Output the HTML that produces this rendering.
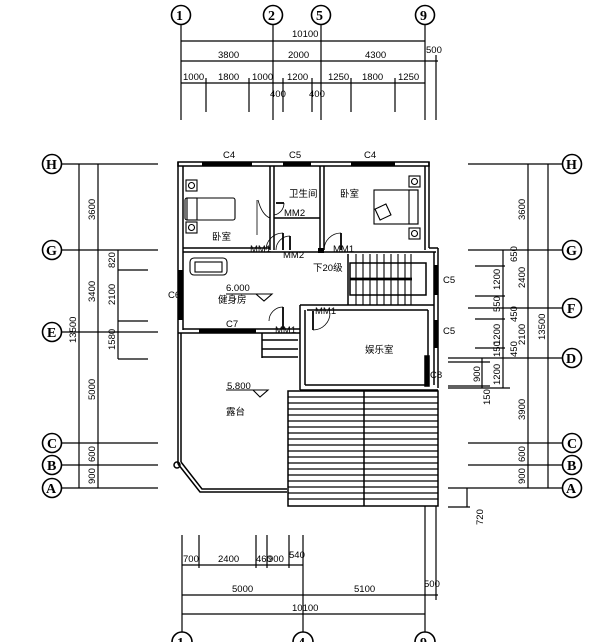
<!DOCTYPE html>
<html><head><meta charset="utf-8"><style>
html,body{margin:0;padding:0;background:#fff;}
svg{display:block;font-family:"Liberation Sans","Noto Sans CJK SC",sans-serif;}
text{font-size:9.5px;fill:#000;}
.c{font-size:14px;font-family:"Liberation Serif",serif;font-weight:bold;}
</style></head><body>
<svg width="600" height="642" viewBox="0 0 600 642" xmlns="http://www.w3.org/2000/svg" stroke="#000" fill="none" stroke-width="1.2">
<!-- TOP axes -->
<g>
<circle cx="181" cy="15" r="9.5" stroke-width="1.6"/><circle cx="273" cy="15" r="9.5" stroke-width="1.6"/><circle cx="321" cy="15" r="9.5" stroke-width="1.6"/><circle cx="425" cy="15" r="9.5" stroke-width="1.6"/>
<line x1="181" y1="24" x2="181" y2="120"/><line x1="273" y1="24" x2="273" y2="120"/><line x1="321" y1="24" x2="321" y2="120"/><line x1="425" y1="24" x2="425" y2="120"/>
<line x1="436" y1="55" x2="436" y2="120"/>
<line x1="181" y1="41" x2="425" y2="41"/>
<line x1="181" y1="61" x2="438" y2="61"/>
<line x1="181" y1="83" x2="425" y2="83"/>
<g><line x1="206" y1="78" x2="206" y2="112"/><line x1="249" y1="78" x2="249" y2="112"/><line x1="283" y1="78" x2="283" y2="112"/><line x1="312" y1="78" x2="312" y2="112"/><line x1="351" y1="78" x2="351" y2="112"/><line x1="395" y1="78" x2="395" y2="112"/></g>
</g>
<g stroke="none">
<text class="c" x="176" y="20">1</text><text class="c" x="268" y="20">2</text><text class="c" x="316" y="20">5</text><text class="c" x="420" y="20">9</text>
<text x="292" y="37">10100</text>
<text x="218" y="58">3800</text><text x="288" y="58">2000</text><text x="365" y="58">4300</text><text x="426" y="53">500</text>
<text x="183" y="80">1000</text><text x="218" y="80">1800</text><text x="252" y="80">1000</text><text x="287" y="80">1200</text><text x="328" y="80">1250</text><text x="362" y="80">1800</text><text x="398" y="80">1250</text>
<text x="270" y="97">400</text><text x="309" y="97">400</text>
</g>

<!-- LEFT axes -->
<g>
<circle cx="52" cy="164" r="9.5" stroke-width="1.6"/><circle cx="52" cy="250" r="9.5" stroke-width="1.6"/><circle cx="52" cy="332" r="9.5" stroke-width="1.6"/><circle cx="52" cy="443" r="9.5" stroke-width="1.6"/><circle cx="52" cy="465" r="9.5" stroke-width="1.6"/><circle cx="52" cy="488" r="9.5" stroke-width="1.6"/>
<line x1="61" y1="164" x2="158" y2="164"/><line x1="61" y1="250" x2="158" y2="250"/><line x1="61" y1="332" x2="158" y2="332"/><line x1="61" y1="443" x2="158" y2="443"/><line x1="61" y1="465" x2="158" y2="465"/><line x1="61" y1="488" x2="158" y2="488"/>
<line x1="79" y1="164" x2="79" y2="488"/><line x1="98" y1="164" x2="98" y2="488"/>
<line x1="118" y1="250" x2="118" y2="359"/>
<line x1="118" y1="270" x2="148" y2="270"/><line x1="118" y1="321" x2="148" y2="321"/><line x1="118" y1="359" x2="148" y2="359"/>
</g>
<g stroke="none">
<text class="c" x="46" y="169">H</text><text class="c" x="46" y="255">G</text><text class="c" x="47" y="337">E</text><text class="c" x="47" y="448">C</text><text class="c" x="47" y="470">B</text><text class="c" x="46" y="493">A</text>
<text transform="translate(95,220) rotate(-90)">3600</text>
<text transform="translate(95,302) rotate(-90)">3400</text>
<text transform="translate(95,400) rotate(-90)">5000</text>
<text transform="translate(95,462) rotate(-90)">600</text>
<text transform="translate(95,484) rotate(-90)">900</text>
<text transform="translate(76,343) rotate(-90)">13500</text>
<text transform="translate(115,268) rotate(-90)">820</text>
<text transform="translate(115,305) rotate(-90)">2100</text>
<text transform="translate(115,350) rotate(-90)">1580</text>
</g>

<!-- RIGHT axes -->
<g>
<circle cx="572" cy="164" r="9.5" stroke-width="1.6"/><circle cx="572" cy="250" r="9.5" stroke-width="1.6"/><circle cx="572" cy="308" r="9.5" stroke-width="1.6"/><circle cx="572" cy="358" r="9.5" stroke-width="1.6"/><circle cx="572" cy="443" r="9.5" stroke-width="1.6"/><circle cx="572" cy="465" r="9.5" stroke-width="1.6"/><circle cx="572" cy="488" r="9.5" stroke-width="1.6"/>
<line x1="468" y1="164" x2="563" y2="164"/><line x1="468" y1="250" x2="563" y2="250"/><line x1="468" y1="308" x2="563" y2="308"/><line x1="448" y1="358" x2="563" y2="358"/><line x1="468" y1="443" x2="563" y2="443"/><line x1="468" y1="465" x2="563" y2="465"/><line x1="448" y1="488" x2="563" y2="488"/>
<line x1="528" y1="164" x2="528" y2="488"/><line x1="548" y1="164" x2="548" y2="488"/>
<line x1="503" y1="250" x2="503" y2="388"/>
<line x1="475" y1="266" x2="505" y2="266"/><line x1="475" y1="296" x2="505" y2="296"/><line x1="475" y1="319" x2="505" y2="319"/><line x1="475" y1="348" x2="505" y2="348"/><line x1="448" y1="388" x2="510" y2="388"/>
<line x1="482" y1="358" x2="482" y2="388"/><line x1="448" y1="362" x2="490" y2="362"/><line x1="448" y1="386" x2="490" y2="386"/>
<line x1="467" y1="488" x2="467" y2="507"/><line x1="448" y1="507" x2="470" y2="507"/>
</g>
<g stroke="none">
<text class="c" x="566" y="169">H</text><text class="c" x="566" y="255">G</text><text class="c" x="567" y="313">F</text><text class="c" x="566" y="363">D</text><text class="c" x="567" y="448">C</text><text class="c" x="567" y="470">B</text><text class="c" x="566" y="493">A</text>
<text transform="translate(525,220) rotate(-90)">3600</text>
<text transform="translate(525,288) rotate(-90)">2400</text>
<text transform="translate(525,345) rotate(-90)">2100</text>
<text transform="translate(525,420) rotate(-90)">3900</text>
<text transform="translate(525,462) rotate(-90)">600</text>
<text transform="translate(525,484) rotate(-90)">900</text>
<text transform="translate(545,340) rotate(-90)">13500</text>
<text transform="translate(517,262) rotate(-90)">650</text>
<text transform="translate(500,290) rotate(-90)">1200</text>
<text transform="translate(500,312) rotate(-90)">550</text>
<text transform="translate(517,322) rotate(-90)">450</text>
<text transform="translate(500,345) rotate(-90)">1200</text>
<text transform="translate(500,357) rotate(-90)">150</text>
<text transform="translate(517,357) rotate(-90)">450</text>
<text transform="translate(500,385) rotate(-90)">1200</text>
<text transform="translate(480,382) rotate(-90)">900</text>
<text transform="translate(490,405) rotate(-90)">150</text>
<text transform="translate(483,525) rotate(-90)">720</text>
</g>

<!-- BOTTOM axes -->
<g>
<line x1="182" y1="535" x2="182" y2="632"/><line x1="199" y1="535" x2="199" y2="568"/><line x1="256" y1="535" x2="256" y2="568"/><line x1="267" y1="535" x2="267" y2="568"/><line x1="289" y1="535" x2="289" y2="568"/><line x1="303" y1="535" x2="303" y2="632"/>
<line x1="425" y1="506" x2="425" y2="632"/><line x1="436" y1="506" x2="436" y2="600"/>
<line x1="182" y1="565" x2="303" y2="565"/>
<line x1="182" y1="595" x2="438" y2="595"/>
<line x1="182" y1="614" x2="425" y2="614"/>
<circle cx="182" cy="642" r="10" stroke-width="1.6"/><circle cx="303" cy="642" r="10" stroke-width="1.6"/><circle cx="425" cy="642" r="10" stroke-width="1.6"/>
</g>
<g stroke="none">
<text class="c" x="177" y="647">1</text><text class="c" x="298" y="647">4</text><text class="c" x="420" y="647">9</text>
<text x="183" y="562">700</text><text x="218" y="562">2400</text><text x="256" y="562">460</text><text x="268" y="562">900</text><text x="289" y="558">540</text>
<text x="232" y="592">5000</text><text x="354" y="592">5100</text><text x="424" y="587">500</text>
<text x="292" y="611">10100</text>
</g>

<!-- BUILDING -->
<g stroke-width="1.5">
<rect x="178" y="162" width="251" height="4"/>
<line x1="178" y1="162" x2="178" y2="333"/><line x1="183" y1="166" x2="183" y2="330"/>
<line x1="429" y1="162" x2="429" y2="248"/><line x1="425" y1="166" x2="425" y2="250"/>
<line x1="183" y1="248" x2="270" y2="248"/><line x1="183" y1="252" x2="436" y2="252"/>
<line x1="270" y1="166" x2="270" y2="250"/><line x1="274" y1="166" x2="274" y2="250"/>
<line x1="320" y1="166" x2="320" y2="250"/><line x1="324" y1="166" x2="324" y2="250"/>
<line x1="274" y1="218" x2="320" y2="218"/>
<line x1="429" y1="248" x2="438" y2="248"/><line x1="438" y1="248" x2="438" y2="388"/><line x1="434" y1="252" x2="434" y2="385"/>
<line x1="178" y1="333" x2="300" y2="333"/><line x1="183" y1="329" x2="300" y2="329"/>
<line x1="348" y1="254" x2="348" y2="305"/>
<rect x="350" y="263" width="76" height="32"/>
<g stroke-width="1.1">
<line x1="356" y1="254" x2="356" y2="305"/><line x1="363" y1="254" x2="363" y2="305"/><line x1="370" y1="254" x2="370" y2="305"/><line x1="377" y1="254" x2="377" y2="305"/><line x1="384" y1="254" x2="384" y2="305"/><line x1="391" y1="254" x2="391" y2="305"/><line x1="398" y1="254" x2="398" y2="305"/><line x1="405" y1="254" x2="405" y2="305"/><line x1="411" y1="254" x2="411" y2="305"/>
</g>
<line x1="350" y1="279" x2="412" y2="279" stroke-width="2.8"/>
<line x1="300" y1="305" x2="434" y2="305"/><line x1="307" y1="310" x2="428" y2="310"/>
<line x1="300" y1="305" x2="300" y2="390"/><line x1="305" y1="310" x2="305" y2="385"/>
<line x1="305" y1="385" x2="428" y2="385"/><line x1="300" y1="390" x2="438" y2="390"/>
<line x1="428" y1="310" x2="428" y2="385"/>
<rect x="425" y="356" width="4" height="30" fill="#000"/>
<line x1="262" y1="333" x2="262" y2="358"/><line x1="262" y1="340" x2="298" y2="340"/><line x1="262" y1="349" x2="298" y2="349"/><line x1="262" y1="357" x2="298" y2="357"/>
<line x1="178" y1="333" x2="178" y2="464"/><line x1="181" y1="333" x2="181" y2="462"/>
<polyline points="178,464 200,492 287,492"/><polyline points="181,462 202,489 287,489"/>
<circle cx="177" cy="465" r="3"/>
<rect x="288" y="391" width="150" height="115"/>
<line x1="364" y1="391" x2="364" y2="506"/>
</g>
<g stroke-width="1.2">
<line x1="288" y1="397" x2="438" y2="397"/><line x1="288" y1="403" x2="438" y2="403"/><line x1="288" y1="409" x2="438" y2="409"/><line x1="288" y1="415" x2="438" y2="415"/><line x1="288" y1="421" x2="438" y2="421"/><line x1="288" y1="427" x2="438" y2="427"/><line x1="288" y1="433" x2="438" y2="433"/><line x1="288" y1="439" x2="438" y2="439"/><line x1="288" y1="445" x2="438" y2="445"/><line x1="288" y1="451" x2="438" y2="451"/><line x1="288" y1="457" x2="438" y2="457"/><line x1="288" y1="463" x2="438" y2="463"/><line x1="288" y1="469" x2="438" y2="469"/><line x1="288" y1="475" x2="438" y2="475"/><line x1="288" y1="481" x2="438" y2="481"/><line x1="288" y1="487" x2="438" y2="487"/><line x1="288" y1="493" x2="438" y2="493"/><line x1="288" y1="499" x2="438" y2="499"/>
</g>
<g fill="#000" stroke="none">
<rect x="202" y="162" width="50" height="4"/><rect x="283" y="162" width="28" height="4"/><rect x="351" y="162" width="44" height="4"/>
<rect x="178" y="270" width="5" height="50"/><rect x="199" y="329" width="57" height="4"/>
<rect x="434" y="265" width="4" height="30"/><rect x="434" y="320" width="4" height="28"/>
<rect x="318" y="248" width="6" height="5"/>
</g>
<g stroke-width="0.8">
<path d="M266 250 A17 17 0 0 1 283 233"/><path d="M276 250 A14 14 0 0 1 290 236"/>
<path d="M324 250 A17 17 0 0 1 341 233"/>
<path d="M284 203 A12 12 0 0 1 274 215"/>
<path d="M269 321 A14 14 0 0 1 283 307"/>
<path d="M313 330 A17 17 0 0 0 330 313"/>
<path d="M257 200 L257 235 M258 200 Q262 215 270 218"/>
</g>
<g stroke-width="1.8"><line x1="283" y1="233" x2="283" y2="250"/><line x1="290" y1="236" x2="290" y2="250"/><line x1="341" y1="233" x2="341" y2="250"/><line x1="283" y1="307" x2="283" y2="329"/><line x1="313" y1="311" x2="313" y2="330"/><line x1="276" y1="203" x2="284" y2="203"/></g>
<g stroke-width="1.1">
<rect x="185" y="198" width="50" height="22" rx="2"/><rect x="187" y="198" width="10" height="22"/>
<rect x="186" y="180" width="11" height="11"/><circle cx="191.5" cy="185.5" r="3"/>
<rect x="186" y="222" width="11" height="11"/><circle cx="191.5" cy="227.5" r="3"/>
<rect x="374" y="190" width="44" height="34"/><rect x="409" y="190" width="9" height="34"/>
<rect x="409" y="176" width="11" height="11"/><circle cx="414.5" cy="181.5" r="3"/>
<rect x="409" y="228" width="11" height="11"/><circle cx="414.5" cy="233.5" r="3"/>
<rect x="377" y="206" width="12" height="12" transform="rotate(-25 383 212)"/>
<rect x="190" y="258" width="37" height="17" rx="4"/><rect x="195" y="262" width="27" height="10"/>
<path d="M256 294 L272 294 L264 301 Z"/>
<path d="M253 390 L268 390 L260 397 Z"/>
<line x1="226" y1="294" x2="256" y2="294"/>
<line x1="226" y1="390" x2="253" y2="390"/>
</g>
<g stroke="none">
<text x="223" y="158" font-size="7">C4</text><text x="289" y="158" font-size="7">C5</text><text x="364" y="158" font-size="7">C4</text>
<text x="168" y="298" font-size="7">C6</text><text x="226" y="327" font-size="7">C7</text>
<text x="443" y="283" font-size="7">C5</text><text x="443" y="334" font-size="7">C5</text><text x="430" y="378" font-size="7">C8</text>
<text x="289" y="197" font-size="10">卫生间</text><text x="340" y="197" font-size="10">卧室</text>
<text x="212" y="240" font-size="10">卧室</text>
<text x="284" y="216" font-size="6">MM2</text><text x="283" y="258" font-size="6">MM2</text>
<text x="250" y="252" font-size="6">MM1</text><text x="333" y="252" font-size="6">MM1</text>
<text x="275" y="333" font-size="6">MM1</text><text x="315" y="314" font-size="6">MM1</text>
<text x="313" y="271" font-size="11">下20级</text>
<text x="226" y="291" font-size="10">6.000</text><text x="218" y="303" font-size="10">健身房</text>
<text x="365" y="353" font-size="10">娱乐室</text>
<text x="227" y="389" font-size="10">5.800</text><text x="226" y="415" font-size="10">露台</text>
</g>
</svg>
</body></html>
